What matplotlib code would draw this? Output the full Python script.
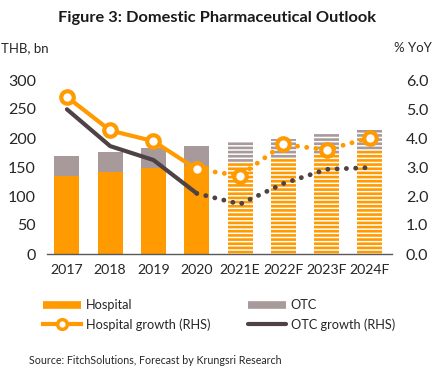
import matplotlib.pyplot as plt
from matplotlib.lines import Line2D

plt.rcParams['font.family'] = ['Lato', 'DejaVu Sans']
plt.rcParams['hatch.linewidth'] = 1.9

# data
years = ['2017', '2018', '2019', '2020', '2021E', '2022F', '2023F', '2024F']
hospital = [135, 142, 148, 152, 158, 165, 173, 177]
otc = [34, 34, 34, 35, 35, 33, 34, 36]
hospital_growth = [5.42, 4.26, 3.89, 2.92, 2.70, 3.78, 3.59, 4.01]
otc_growth = [4.99, 3.72, 3.24, 2.09, 1.72, 2.43, 2.92, 2.98]
n_actual = 4  # 2017-2020 actual, rest forecast

orange = '#FF9A00'
grey = '#A89A9B'
dark = '#4E4244'

fig = plt.figure(figsize=(4.35, 3.76), dpi=100)
ax = fig.add_axes([47/435, 122/376, 345/435, 174/376])
ax2 = ax.twinx()

x = list(range(len(years)))
w = 0.58

# actual bars
ax.bar(x[:n_actual], hospital[:n_actual], w, color=orange, linewidth=0)
ax.bar(x[:n_actual], otc[:n_actual], w, bottom=hospital[:n_actual], color=grey, linewidth=0)
# forecast bars, striped
ax.bar(x[n_actual:], hospital[n_actual:], w, facecolor='white', edgecolor=orange,
       hatch='----', linewidth=0)
ax.bar(x[n_actual:], otc[n_actual:], w, bottom=hospital[n_actual:], facecolor='white',
       edgecolor=grey, hatch='----', linewidth=0)

ax.set_xlim(-0.46, 7.51)
ax.set_ylim(0, 300)
ax.set_yticks(range(0, 301, 50))
ax.set_xticks(x)
ax.set_xticklabels(years, fontsize=10.2)
for s in ['top', 'left', 'right']:
    ax.spines[s].set_visible(False)
ax.spines['bottom'].set_color('#595959')
ax.spines['bottom'].set_linewidth(1.0)
ax.tick_params(axis='both', length=0, colors='#262626')
ax.tick_params(axis='y', pad=8, labelsize=11.5)
ax.tick_params(axis='x', pad=7)

# growth lines (RHS)
dots = (0, (0.01, 1.9))
ax2.plot(x[:n_actual], otc_growth[:n_actual], color=dark, lw=3, solid_capstyle='round')
ax2.plot(x[n_actual-1:], otc_growth[n_actual-1:], color=dark, lw=3.5, ls=dots,
         dash_capstyle='round')
ax2.plot(x[:n_actual], hospital_growth[:n_actual], color=orange, lw=3, solid_capstyle='round')
ax2.plot(x[n_actual-1:], hospital_growth[n_actual-1:], color=orange, lw=3.5, ls=dots,
         dash_capstyle='round')
ax2.plot(x, hospital_growth, ls='none', marker='o', ms=9, mfc='white', mec=orange, mew=3)

ax2.set_ylim(0, 6.0)
ax2.set_yticks([0, 1, 2, 3, 4, 5, 6])
ax2.set_yticklabels([f'{v:.1f}' for v in [0, 1, 2, 3, 4, 5, 6]])
for s in ax2.spines.values():
    s.set_visible(False)
ax2.tick_params(axis='y', length=0, labelsize=11.5, colors='#262626', pad=10)

fig.text(0.5, 1 - 18/376, 'Figure 3: Domestic Pharmaceutical Outlook', ha='center', va='center',
         fontsize=11.8, fontweight='bold', color='#1a1a1a')
fig.text(1/435, 1 - 48/376, 'THB, bn', ha='left', va='center', fontsize=9.5, color='#262626')
fig.text(432/435, 1 - 48/376, '% YoY', ha='right', va='center', fontsize=9.5, color='#262626')

# legend, two columns placed by hand
h_hosp = Line2D([], [], color=orange, lw=5.5, solid_capstyle='butt')
h_otc = Line2D([], [], color=grey, lw=5.5, solid_capstyle='butt')
h_hg = Line2D([], [], color=orange, lw=3, marker='o', ms=7, mfc='white', mec=orange, mew=2.5)
h_og = Line2D([], [], color=dark, lw=3, solid_capstyle='round')
leg_kw = dict(loc='upper left', frameon=False, fontsize=9.2, handlelength=3.0,
              handletextpad=0.35, labelspacing=0.55, borderpad=0, borderaxespad=0,
              numpoints=1)
l1 = fig.legend([h_hosp, h_hg], ['Hospital', 'Hospital growth (RHS)'],
                bbox_to_anchor=(43/435, 1 - 299/376), **leg_kw)
l2 = fig.legend([h_otc, h_og], ['OTC', 'OTC growth (RHS)'],
                bbox_to_anchor=(248/435, 1 - 299/376), **leg_kw)
for lg in (l1, l2):
    for t in lg.get_texts():
        t.set_color('#262626')

fig.text(29/435, 1 - 361/376, 'Source: FitchSolutions, Forecast by Krungsri Research',
         ha='left', va='center', fontsize=7.7, color='#262626')

fig.savefig('out.png', dpi=100, facecolor='white')
